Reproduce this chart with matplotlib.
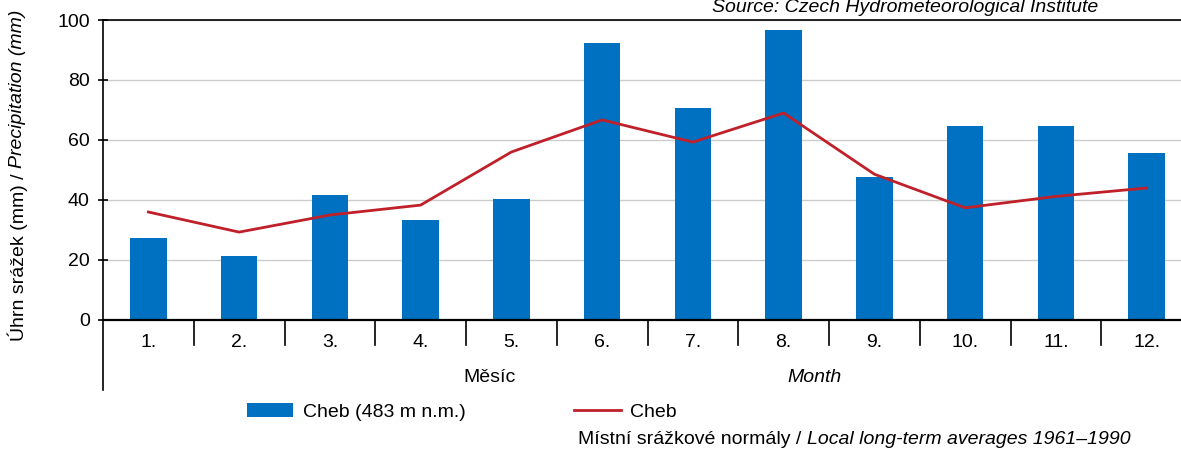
import matplotlib
matplotlib.use("Agg")
import matplotlib.pyplot as plt
import matplotlib.transforms as mtransforms
import numpy as np

plt.rcParams["font.family"] = ["Liberation Sans", "DejaVu Sans"]

months = ["1.", "2.", "3.", "4.", "5.", "6.", "7.", "8.", "9.", "10.", "11.", "12."]
precip_bars = [27.5, 21.2, 41.8, 33.3, 40.5, 92.2, 70.6, 96.8, 47.6, 64.8, 64.7, 55.6]
precip_normal = [36.0, 29.3, 35.0, 38.3, 56.0, 66.7, 59.3, 69.0, 48.6, 37.4, 41.2, 44.0]

bar_color = "#0070C0"
line_color = "#C0202A"
fs = 14

fig = plt.figure(figsize=(11.81, 4.5), dpi=100)
ax = fig.add_axes([103 / 1181, 130 / 450, 1089 / 1181, 300 / 450])

x = np.arange(len(months))
bars = ax.bar(x, precip_bars, width=0.4, color=bar_color, label="Cheb (483 m n.m.)", zorder=2)
line, = ax.plot(x, precip_normal, color=line_color, lw=2, label="Cheb", zorder=3)

ax.set_xlim(-0.5, len(months) - 0.5)
ax.set_ylim(0, 100)
ax.set_yticks(range(0, 101, 20))
ax.tick_params(axis="y", direction="inout", length=7, width=1.2, labelsize=fs, pad=6)
ax.tick_params(axis="x", length=0, labelsize=fs, pad=10)
ax.set_xticks(x)
ax.set_xticklabels(months)
ax.grid(axis="y", color="#cccccc", lw=1, zorder=0)
for s in ["top", "left", "bottom"]:
    ax.spines[s].set_linewidth(1.2)
ax.spines["bottom"].set_linewidth(1.6)
ax.spines["right"].set_visible(False)

# category separators under the axis
trans = mtransforms.blended_transform_factory(ax.transData, ax.transAxes)
for b in np.arange(0.5, len(months) - 0.5, 1):
    ax.plot([b, b], [0, -25 / 300], color="black", lw=1.2, transform=trans, clip_on=False)
ax.plot([-0.5, -0.5], [0, -70 / 300], color="black", lw=1.2, transform=trans, clip_on=False)

fig.text(490 / 1181, 1 - 377 / 450, "Měsíc", ha="center", va="center", fontsize=fs)
fig.text(815 / 1181, 1 - 377 / 450, "Month", ha="center", va="center", fontsize=fs, style="italic")

# y label, two styles
t1 = fig.text(18 / 1181, 1 - 341 / 450, "Úhrn srážek (mm) / ", rotation=90,
              ha="center", va="bottom", fontsize=fs)
fig.canvas.draw()
bb = t1.get_window_extent()
fig.text(18 / 1181, bb.y1 / fig.bbox.height, "Precipitation (mm)", rotation=90,
         ha="center", va="bottom", fontsize=fs, style="italic")

fig.text(905 / 1181, 1 - 12 / 450, "Source: Czech Hydrometeorological Institute",
         ha="center", va="baseline", fontsize=fs, style="italic")

fig.legend([bars, line], ["Cheb (483 m n.m.)", "Cheb"], loc="center left",
           bbox_to_anchor=(247 / 1181, 1 - 412 / 450), ncol=2,
           frameon=False, fontsize=fs, handlelength=2.37, handletextpad=0.5,
           columnspacing=5.6, borderpad=0, borderaxespad=0)

t2 = fig.text(578 / 1181, 1 - 440 / 450, "Místní srážkové normály / ",
              ha="left", va="center", fontsize=fs)
fig.canvas.draw()
bb2 = t2.get_window_extent()
fig.text(bb2.x1 / fig.bbox.width, 1 - 440 / 450, "Local long-term averages 1961–1990",
         ha="left", va="center", fontsize=fs, style="italic")

fig.savefig("out.png", dpi=100)
